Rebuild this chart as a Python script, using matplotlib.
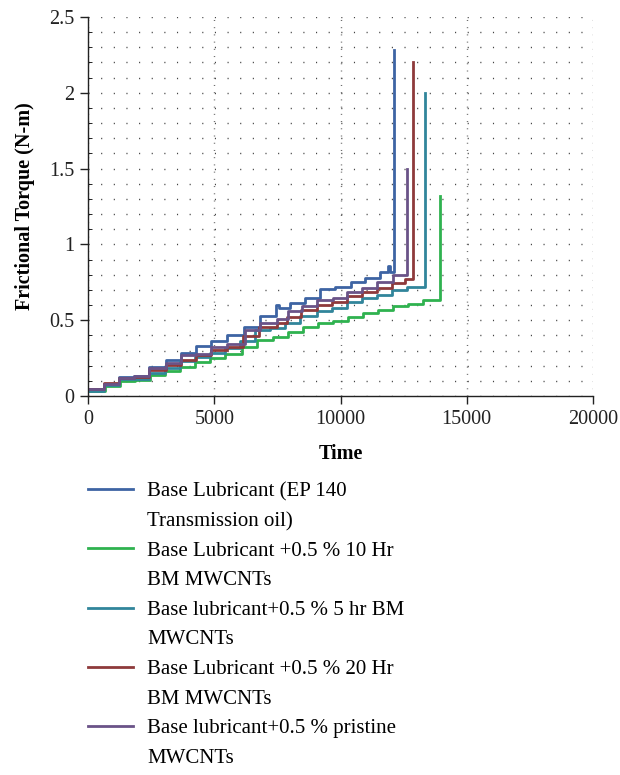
import matplotlib
matplotlib.use("Agg")
import matplotlib.pyplot as plt
from matplotlib.lines import Line2D
from matplotlib.ticker import MultipleLocator

plt.rcParams["font.family"] = ["Liberation Serif", "DejaVu Serif"]

# step start times (s) and torque levels (N-m)
base_t = [0, 640, 1230, 1830, 2420, 3080, 3680, 4270, 4860, 5520, 6180, 6810,
          7430, 7560, 7990, 8600, 9180, 9780, 10400, 10970, 11550, 11880, 11960]
base_v = [0.044, 0.079, 0.127, 0.134, 0.193, 0.237, 0.286, 0.330, 0.363, 0.400, 0.457, 0.528,
          0.600, 0.578, 0.611, 0.644, 0.704, 0.717, 0.754, 0.780, 0.820, 0.860, 0.820]
base_fail, base_peak = 12120, 2.28

h10_t = [0, 660, 1270, 1860, 2450, 3050, 3640, 4240, 4830, 5430, 6080, 6680,
         7340, 7930, 8530, 9120, 9710, 10310, 10900, 11500, 12090, 12690, 13280]
h10_v = [0.035, 0.066, 0.100, 0.105, 0.138, 0.167, 0.193, 0.226, 0.250, 0.280, 0.325, 0.370,
         0.390, 0.424, 0.457, 0.480, 0.495, 0.518, 0.545, 0.567, 0.593, 0.610, 0.633]
h10_fail, h10_peak = 13940, 1.32

h5_t = [0, 640, 1230, 1830, 2420, 3050, 3640, 4240, 4830, 5420, 6020, 6610,
        7210, 7800, 8400, 9050, 9650, 10240, 10840, 11430, 12030, 12650]
h5_v = [0.035, 0.070, 0.110, 0.110, 0.154, 0.187, 0.230, 0.260, 0.286, 0.314, 0.360, 0.435,
        0.446, 0.480, 0.528, 0.563, 0.578, 0.620, 0.644, 0.666, 0.700, 0.720]
h5_fail, h5_peak = 13340, 2.00

h20_t = [0, 640, 1230, 1830, 2420, 3080, 3680, 4270, 4860, 5520, 6150, 6780,
         7470, 7870, 8430, 9050, 9650, 10240, 10840, 11430, 12020, 12550]
h20_v = [0.048, 0.088, 0.120, 0.127, 0.171, 0.204, 0.237, 0.270, 0.303, 0.325, 0.396, 0.457,
         0.480, 0.523, 0.567, 0.600, 0.620, 0.660, 0.688, 0.714, 0.747, 0.770]
h20_fail, h20_peak = 12890, 2.20

pr_t = [0, 640, 1230, 1830, 2420, 3080, 3680, 4270, 4860, 5520, 6200, 6800,
        7470, 7930, 8460, 9050, 9710, 10240, 10840, 11430, 12060]
pr_v = [0.044, 0.080, 0.120, 0.130, 0.187, 0.215, 0.270, 0.280, 0.325, 0.340, 0.435, 0.480,
        0.506, 0.560, 0.593, 0.633, 0.644, 0.688, 0.710, 0.754, 0.798]
pr_fail, pr_peak = 12650, 1.50

series = [
    ("Base Lubricant (EP 140", "Transmission oil)", base_t, base_v, base_fail, base_peak, "#3d64a3"),
    ("Base Lubricant +0.5 % 10 Hr", "BM MWCNTs", h10_t, h10_v, h10_fail, h10_peak, "#2fb24f"),
    ("Base lubricant+0.5 % 5 hr BM", "MWCNTs", h5_t, h5_v, h5_fail, h5_peak, "#31859b"),
    ("Base Lubricant +0.5 % 20 Hr", "BM MWCNTs", h20_t, h20_v, h20_fail, h20_peak, "#8e3a3b"),
    ("Base lubricant+0.5 % pristine", "MWCNTs", pr_t, pr_v, pr_fail, pr_peak, "#6a5388"),
]

fig = plt.figure(figsize=(6.2, 7.75), dpi=100)
ax = fig.add_axes([88 / 620, 1 - 396 / 775, 505 / 620, 379 / 775])

for name1, name2, t, v, tf, pk, col in series:
    tt = t + [tf, tf]
    vv = v + [v[-1], pk]
    ax.plot(tt, vv, drawstyle="steps-post", color=col, lw=2.0)

ax.set_xlim(0, 20000)
ax.set_ylim(0, 2.5)
ax.xaxis.set_major_locator(MultipleLocator(5000))
ax.yaxis.set_minor_locator(MultipleLocator(0.1))
ax.set_yticks([0, 0.5, 1, 1.5, 2, 2.5])
ax.set_yticklabels(["0", "0.5", "1", "1.5", "2", "2.5"])

# dotted grid: horizontal rows every 0.1, vertical at every 5000
ax.grid(which="minor", axis="y", color="#444444", lw=1.0, linestyle=(0, (0.8, 8.3)))
ax.grid(which="major", axis="y", color="#444444", lw=1.0, linestyle=(0, (0.8, 8.3)))
ax.grid(which="major", axis="x", color="#666666", lw=1.0, linestyle=(0, (0.7, 4.5)))
ax.set_axisbelow(True)

for s in ["top", "right"]:
    ax.spines[s].set_visible(False)
for s in ["left", "bottom"]:
    ax.spines[s].set_linewidth(1.0)
    ax.spines[s].set_color("#222222")

ax.tick_params(axis="both", which="major", direction="out", length=6, width=1,
               labelsize=14.5, colors="#222222", pad=4)
ax.tick_params(axis="y", which="minor", direction="in", length=3, width=0.6)

ax.set_xlabel("Time", fontsize=14.5, fontweight="bold", labelpad=11)
ax.set_ylabel("Frictional Torque (N-m)", fontsize=14.5, fontweight="bold", labelpad=10)

handles, labels = [], []
for name1, name2, t, v, tf, pk, col in series:
    handles.append(Line2D([], [], color=col, lw=2))
    labels.append(name1)
    handles.append(Line2D([], [], color="none"))
    labels.append(name2)

fig.legend(handles, labels, loc="upper left", bbox_to_anchor=(88 / 620, 1 - 482 / 775),
           frameon=False, fontsize=15, handlelength=2.16, handletextpad=0.67,
           labelspacing=0.48, borderaxespad=0, borderpad=0)

fig.savefig("out.png", dpi=100)
